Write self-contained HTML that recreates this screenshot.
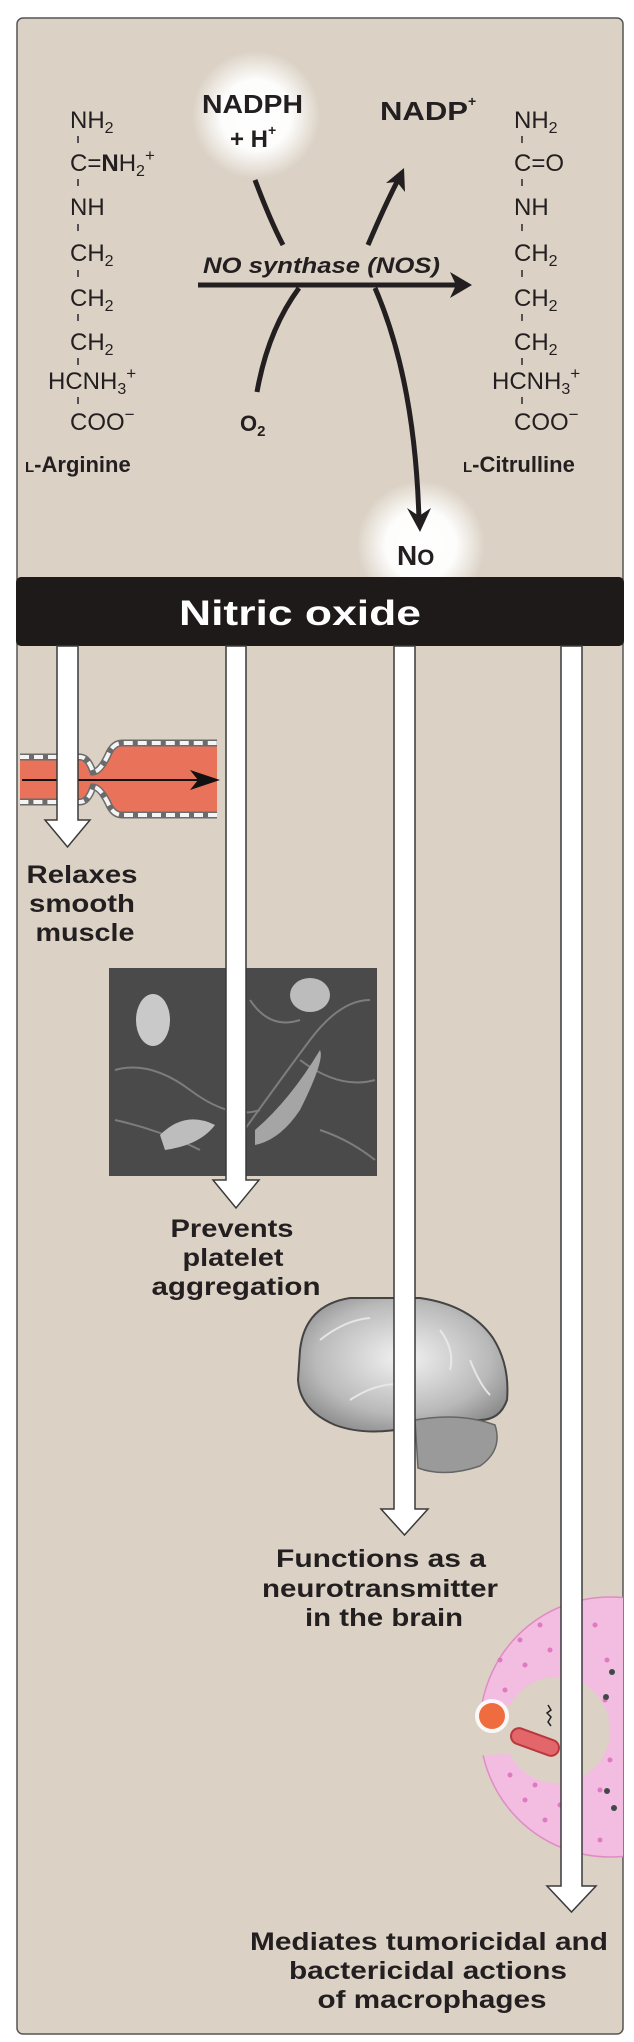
<!DOCTYPE html>
<html><head><meta charset="utf-8"><style>
html,body{margin:0;padding:0;background:#fff;}
svg{display:block;}
text{font-family:"Liberation Sans",Arial,sans-serif;fill:#231f20;}
.b{font-weight:bold;}
.lab{font-weight:bold;font-size:25px;text-anchor:middle;}
.chem{font-size:24px;}
</style></head><body>
<svg width="634" height="2042" viewBox="0 0 634 2042" xmlns="http://www.w3.org/2000/svg">
<defs>
<radialGradient id="glow"><stop offset="0" stop-color="#fff"/><stop offset="0.55" stop-color="#fff" stop-opacity="0.95"/><stop offset="1" stop-color="#fff" stop-opacity="0"/></radialGradient>
<radialGradient id="brain" cx="0.5" cy="0.45" r="0.6"><stop offset="0" stop-color="#f2f2f2"/><stop offset="0.7" stop-color="#b9b9b9"/><stop offset="1" stop-color="#8d8d8d"/></radialGradient>
<clipPath id="panelclip"><rect x="17" y="18" width="606" height="2016" rx="6"/></clipPath>
<mask id="macmask">
<rect x="0" y="1500" width="634" height="500" fill="#fff"/>
<circle cx="557" cy="1730" r="53" fill="#000"/>
<path d="M470 1700 L540 1712 L540 1752 L470 1756 Z" fill="#000"/>
</mask>
</defs>
<rect x="17" y="18" width="606" height="2016" rx="6" fill="#dbd2c5" stroke="#555" stroke-width="1.5"/>

<circle cx="256" cy="115" r="64" fill="url(#glow)"/>
<circle cx="421" cy="545" r="64" fill="url(#glow)"/>

<g class="chem">
<text x="70" y="128">NH<tspan font-size="16" dy="5">2</tspan></text>
<text x="70" y="171">C=<tspan font-weight="bold">N</tspan>H<tspan font-size="16" dy="5">2</tspan><tspan font-size="17" dy="-15">+</tspan></text>
<text x="70" y="215">NH</text>
<text x="70" y="261">CH<tspan font-size="16" dy="5">2</tspan></text>
<text x="70" y="306">CH<tspan font-size="16" dy="5">2</tspan></text>
<text x="70" y="350">CH<tspan font-size="16" dy="5">2</tspan></text>
<text x="48" y="389">HCNH<tspan font-size="16" dy="5">3</tspan><tspan font-size="17" dy="-15">+</tspan></text>
<text x="70" y="430">COO<tspan font-size="17" dy="-10">−</tspan></text>
</g>
<g stroke="#333" stroke-width="1.6">
<line x1="78" y1="136" x2="78" y2="143"/><line x1="78" y1="179" x2="78" y2="186"/><line x1="78" y1="224" x2="78" y2="231"/>
<line x1="78" y1="270" x2="78" y2="277"/><line x1="78" y1="314" x2="78" y2="321"/><line x1="78" y1="358" x2="78" y2="365"/><line x1="78" y1="397" x2="78" y2="404"/>
</g>
<text x="25" y="472" class="b" font-size="22"><tspan font-size="15">L</tspan>-Arginine</text>

<g class="chem">
<text x="514" y="128">NH<tspan font-size="16" dy="5">2</tspan></text>
<text x="514" y="171">C=O</text>
<text x="514" y="215">NH</text>
<text x="514" y="261">CH<tspan font-size="16" dy="5">2</tspan></text>
<text x="514" y="306">CH<tspan font-size="16" dy="5">2</tspan></text>
<text x="514" y="350">CH<tspan font-size="16" dy="5">2</tspan></text>
<text x="492" y="389">HCNH<tspan font-size="16" dy="5">3</tspan><tspan font-size="17" dy="-15">+</tspan></text>
<text x="514" y="430">COO<tspan font-size="17" dy="-10">−</tspan></text>
</g>
<g stroke="#333" stroke-width="1.6">
<line x1="522" y1="136" x2="522" y2="143"/><line x1="522" y1="179" x2="522" y2="186"/><line x1="522" y1="224" x2="522" y2="231"/>
<line x1="522" y1="270" x2="522" y2="277"/><line x1="522" y1="314" x2="522" y2="321"/><line x1="522" y1="358" x2="522" y2="365"/><line x1="522" y1="397" x2="522" y2="404"/>
</g>
<text x="463" y="472" class="b" font-size="22"><tspan font-size="15">L</tspan>-Citrulline</text>

<text x="202" y="113" class="b" font-size="26" textLength="101" lengthAdjust="spacingAndGlyphs">NADPH</text>
<text x="230" y="147" class="b" font-size="24">+ H<tspan font-size="14" dy="-12">+</tspan></text>
<text x="380" y="120" class="b" font-size="26" textLength="88" lengthAdjust="spacingAndGlyphs">NADP</text>
<text x="468" y="106" class="b" font-size="14">+</text>
<text x="203" y="273" class="b" font-size="22" font-style="italic" textLength="237" lengthAdjust="spacingAndGlyphs">NO synthase (NOS)</text>
<text x="240" y="431" class="b" font-size="22">O<tspan font-size="15" dy="5">2</tspan></text>
<text x="397" y="565" class="b" font-size="28">N<tspan font-size="22">O</tspan></text>

<g fill="none" stroke="#231f20" stroke-width="5" stroke-linecap="butt">
<line x1="198" y1="285" x2="464" y2="285"/>
<path d="M255 180 Q270 220 283 245"/>
<path d="M257 392 Q268 330 299 288"/>
<path d="M368 245 Q385 205 398 180"/>
<path d="M375 288 Q415 380 419 520"/>
</g>
<g fill="#231f20">
<path d="M472 285 L450 272 L456 285 L450 298 Z"/>
<path d="M404 168 L386 183 L397 182 L405 192 Z"/>
<path d="M420 532 L407 508 L419 516 L431 508 Z"/>
</g>

<rect x="16" y="577" width="608" height="69" rx="5" fill="#1e1a1a"/>
<text x="300" y="625" text-anchor="middle" class="b" font-size="35" style="fill:#fff" textLength="242" lengthAdjust="spacingAndGlyphs">Nitric oxide</text>

<path d="M20 757 L80 757 Q88 757 93 772 Q100 772 108 755 Q113 743 122 743 L217 743 L217 815 L122 815 Q113 815 108 803 Q100 787 93 787 Q88 802 80 802 L20 802 Z" fill="#e8735a"/>
<path d="M20 757 L80 757 Q88 757 93 772 Q100 772 108 755 Q113 743 122 743 L217 743 M217 815 L122 815 Q113 815 108 803 Q100 787 93 787 Q88 802 80 802 L20 802" fill="none" stroke="#6b6b6b" stroke-width="7"/>
<path d="M20 757 L80 757 Q88 757 93 772 Q100 772 108 755 Q113 743 122 743 L217 743 M217 815 L122 815 Q113 815 108 803 Q100 787 93 787 Q88 802 80 802 L20 802" fill="none" stroke="#f4f4f4" stroke-width="4" stroke-dasharray="9 5"/>
<line x1="22" y1="780" x2="205" y2="780" stroke="#111" stroke-width="2"/>
<path d="M220 780 L190 770 L198 780 L190 790 Z" fill="#111"/>

<rect x="109" y="968" width="268" height="208" fill="#4a4a4a"/>
<g fill="none" stroke="#8a8a8a" stroke-width="2" opacity="0.8">
<path d="M115 1070 Q150 1060 190 1090 T260 1110"/>
<path d="M230 1150 Q280 1080 310 1040 T370 1000"/>
<path d="M300 1060 Q340 1090 375 1080"/>
<path d="M115 1120 Q160 1130 200 1150"/>
<path d="M250 1000 Q270 1030 300 1020"/>
<path d="M320 1130 Q350 1140 375 1160"/>
</g>
<ellipse cx="153" cy="1020" rx="17" ry="26" fill="#c9c9c9"/>
<ellipse cx="310" cy="995" rx="20" ry="17" fill="#bcbcbc"/>
<path d="M160 1135 Q185 1110 215 1125 Q200 1145 165 1150 Z" fill="#bdbdbd"/>
<path d="M255 1130 Q290 1100 320 1050 Q325 1060 300 1110 Q280 1140 255 1145 Z" fill="#a5a5a5"/>

<path d="M300 1350 Q305 1305 350 1298 L420 1298 Q470 1305 493 1338 Q510 1365 507 1400 Q500 1420 480 1420 L420 1425 Q370 1438 335 1425 Q300 1410 298 1380 Z" fill="url(#brain)" stroke="#444" stroke-width="2"/>
<path d="M415 1420 Q460 1412 495 1425 Q503 1450 480 1466 Q445 1478 418 1468 Z" fill="#9a9a9a" stroke="#666" stroke-width="1.5"/>
<g fill="none" stroke="#eaeaea" stroke-width="2" opacity="0.9">
<path d="M320 1340 Q345 1320 370 1318"/><path d="M350 1400 Q380 1380 410 1385"/><path d="M440 1330 Q455 1350 450 1370"/><path d="M470 1360 Q480 1385 490 1395"/>
</g>

<g clip-path="url(#panelclip)">
<g mask="url(#macmask)">
<circle cx="610" cy="1727" r="130" fill="#f2bde0" stroke="#e08cc4" stroke-width="1.5"/>
</g>
<g fill="#e07ac0">
<circle cx="500" cy="1660" r="2.5"/><circle cx="520" cy="1640" r="2.5"/><circle cx="540" cy="1625" r="2.5"/><circle cx="565" cy="1615" r="2.5"/>
<circle cx="505" cy="1690" r="2.5"/><circle cx="525" cy="1665" r="2.5"/><circle cx="550" cy="1650" r="2.5"/><circle cx="595" cy="1625" r="2.5"/>
<circle cx="510" cy="1775" r="2.5"/><circle cx="525" cy="1800" r="2.5"/><circle cx="545" cy="1820" r="2.5"/><circle cx="570" cy="1835" r="2.5"/>
<circle cx="535" cy="1785" r="2.5"/><circle cx="560" cy="1805" r="2.5"/><circle cx="600" cy="1840" r="2.5"/><circle cx="605" cy="1700" r="2.5"/>
<circle cx="610" cy="1760" r="2.5"/><circle cx="600" cy="1790" r="2.5"/><circle cx="607" cy="1660" r="2.5"/>
</g>
<g fill="#3f4a45"><circle cx="612" cy="1672" r="3"/><circle cx="606" cy="1697" r="3"/><circle cx="607" cy="1791" r="3"/><circle cx="614" cy="1808" r="3"/></g>
</g>
<circle cx="492" cy="1716" r="17" fill="#fff" opacity="0.85"/>
<circle cx="492" cy="1716" r="13" fill="#ef6c3f"/>
<g transform="rotate(20 535 1742)"><rect x="510" y="1734" width="50" height="16" rx="8" fill="#e3666a" stroke="#b8383c" stroke-width="2"/></g>
<path d="M548 1705 l3 5 l-4 3 l4 4 l-3 5 l3 4" fill="none" stroke="#222" stroke-width="1.5"/>

<g fill="#fff" stroke="#3a3a3a" stroke-width="1.5">
<path d="M57 646 L78 646 L78 820 L90 820 L67.5 847 L45 820 L57 820 Z"/>
<path d="M226 646 L246 646 L246 1180 L259 1180 L236 1208 L213 1180 L226 1180 Z"/>
<path d="M394 646 L415 646 L415 1509 L428 1509 L404.5 1535 L381 1509 L394 1509 Z"/>
<path d="M561 646 L582 646 L582 1886 L596 1886 L571.5 1912 L547 1886 L561 1886 Z"/>
</g>

<text x="82" y="883" class="lab" textLength="111" lengthAdjust="spacingAndGlyphs">Relaxes</text>
<text x="82" y="912" class="lab" textLength="106" lengthAdjust="spacingAndGlyphs">smooth</text>
<text x="85" y="941" class="lab" textLength="99" lengthAdjust="spacingAndGlyphs">muscle</text>

<text x="232" y="1237" class="lab" textLength="123" lengthAdjust="spacingAndGlyphs">Prevents</text>
<text x="233" y="1266" class="lab" textLength="101" lengthAdjust="spacingAndGlyphs">platelet</text>
<text x="236" y="1295" class="lab" textLength="169" lengthAdjust="spacingAndGlyphs">aggregation</text>

<text x="381" y="1567" class="lab" textLength="210" lengthAdjust="spacingAndGlyphs">Functions as a</text>
<text x="380" y="1597" class="lab" textLength="236" lengthAdjust="spacingAndGlyphs">neurotransmitter</text>
<text x="384" y="1626" class="lab" textLength="158" lengthAdjust="spacingAndGlyphs">in the brain</text>

<text x="429" y="1950" class="lab" textLength="358" lengthAdjust="spacingAndGlyphs">Mediates tumoricidal and</text>
<text x="428" y="1979" class="lab" textLength="278" lengthAdjust="spacingAndGlyphs">bactericidal actions</text>
<text x="432" y="2008" class="lab" textLength="229" lengthAdjust="spacingAndGlyphs">of macrophages</text>
</svg>
</body></html>
